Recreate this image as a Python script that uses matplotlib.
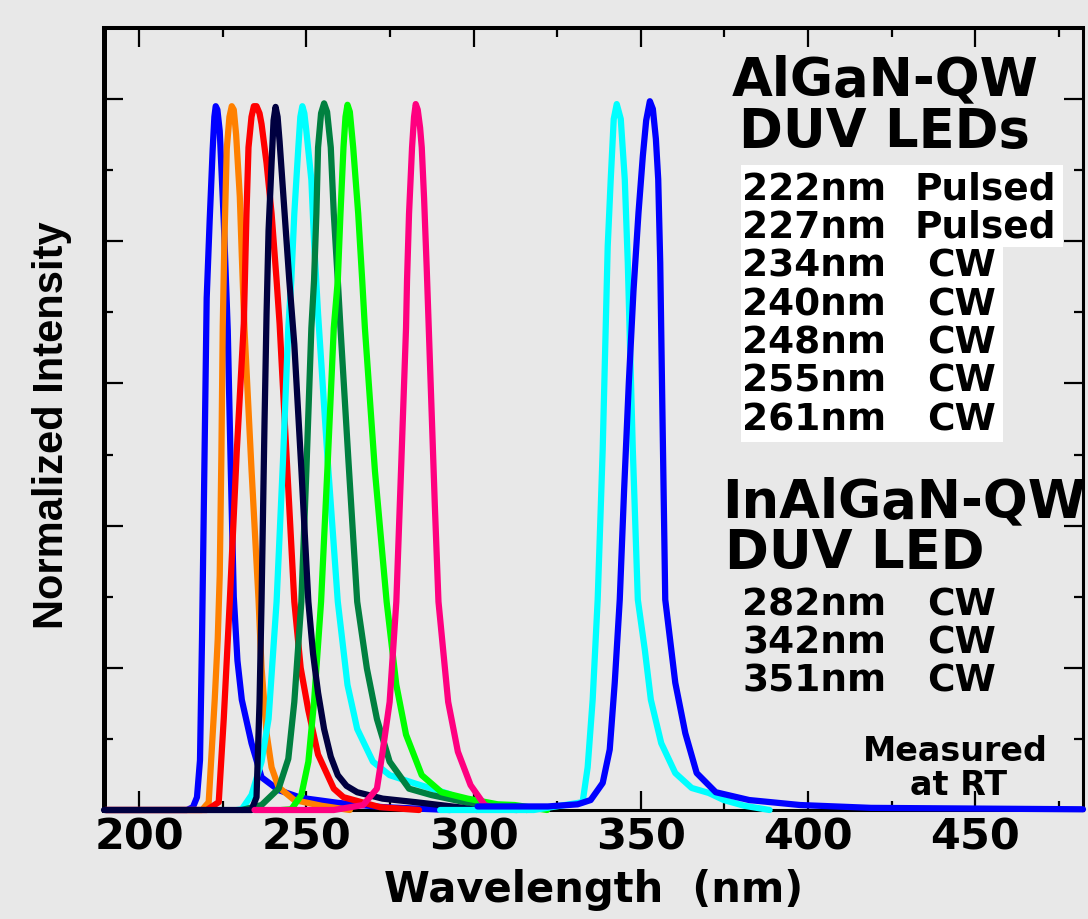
import matplotlib
matplotlib.use('Agg')
import matplotlib.pyplot as plt
import matplotlib.ticker as ticker
from matplotlib.patches import Rectangle

# spectra: wavelength (nm) and normalized intensity
wl_222 = [190.0, 214.3, 216.1, 217.3, 218.2, 218.8, 219.3, 220.2, 221.1, 222.0, 222.5, 222.9, 223.4, 224.1, 225.3, 226.5, 227.4, 228.3, 229.4, 230.7, 233.6, 236.6, 241.7, 248.5, 259.5, 273.0, 293.0]
in_222 = [0.0, 0.0, 0.004, 0.018, 0.07, 0.24, 0.41, 0.72, 0.83, 0.93, 0.975, 0.99, 0.985, 0.955, 0.83, 0.675, 0.48, 0.30, 0.21, 0.155, 0.094, 0.046, 0.028, 0.017, 0.010, 0.004, 0.0]

wl_227 = [190.0, 218.8, 220.8, 222.6, 223.5, 224.1, 224.6, 225.0, 225.5, 226.2, 227.0, 227.7, 228.3, 229.0, 230.1, 230.7, 231.5, 233.6, 235.7, 236.6, 238.1, 239.6, 241.7, 246.4, 254.5, 263.0]
in_227 = [0.0, 0.0, 0.011, 0.155, 0.24, 0.33, 0.50, 0.68, 0.80, 0.93, 0.975, 0.99, 0.985, 0.95, 0.863, 0.78, 0.676, 0.479, 0.296, 0.20, 0.108, 0.06, 0.032, 0.014, 0.006, 0.0]

wl_234 = [190.0, 220.2, 223.8, 225.3, 227.1, 229.2, 231.3, 232.1, 232.7, 233.6, 234.3, 235.1, 236.0, 236.6, 238.1, 239.6, 241.1, 242.0, 244.0, 246.4, 248.3, 250.6, 253.5, 258.2, 261.1, 272.0, 283.7]
in_234 = [0.0, 0.0, 0.011, 0.128, 0.293, 0.505, 0.684, 0.839, 0.932, 0.975, 0.99, 0.99, 0.98, 0.965, 0.91, 0.839, 0.745, 0.684, 0.505, 0.293, 0.20, 0.14, 0.078, 0.03, 0.018, 0.004, 0.0]

wl_240 = [189.5, 233.6, 235.1, 236.0, 236.6, 237.5, 238.1, 238.7, 239.6, 240.2, 240.8, 241.4, 242.0, 243.5, 244.9, 246.4, 248.5, 250.6, 252.0, 253.5, 255.3, 257.3, 259.4, 262.0, 265.2, 272.8, 282.7, 295.3, 301.0]
in_240 = [0.0, 0.0, 0.018, 0.152, 0.293, 0.547, 0.698, 0.815, 0.91, 0.97, 0.989, 0.975, 0.94, 0.839, 0.745, 0.655, 0.48, 0.293, 0.22, 0.165, 0.114, 0.075, 0.049, 0.034, 0.025, 0.016, 0.011, 0.004, 0.0]

wl_248 = [229.2, 230.7, 233.6, 236.6, 238.7, 241.1, 243.0, 244.6, 245.5, 246.4, 247.6, 248.2, 248.8, 249.4, 250.0, 251.5, 252.3, 253.5, 256.4, 259.4, 262.3, 265.2, 269.9, 274.9, 282.7, 292.4, 298.2, 304.2, 313.0]
in_248 = [0.0, 0.001, 0.021, 0.068, 0.128, 0.293, 0.49, 0.678, 0.745, 0.839, 0.932, 0.975, 0.99, 0.98, 0.955, 0.886, 0.80, 0.698, 0.49, 0.293, 0.176, 0.114, 0.068, 0.049, 0.037, 0.023, 0.011, 0.003, 0.0]

wl_255 = [230.7, 236.6, 241.7, 244.6, 246.4, 248.5, 250.0, 251.5, 252.3, 253.0, 253.5, 254.4, 255.3, 256.2, 257.3, 258.2, 259.4, 260.2, 262.6, 265.2, 268.1, 271.1, 274.9, 280.7, 287.4, 297.4, 304.2, 316.0]
in_255 = [0.0, 0.007, 0.03, 0.072, 0.152, 0.293, 0.477, 0.678, 0.745, 0.839, 0.932, 0.98, 0.994, 0.982, 0.932, 0.839, 0.745, 0.678, 0.49, 0.293, 0.199, 0.128, 0.068, 0.03, 0.021, 0.011, 0.006, 0.0]

wl_261 = [242.6, 245.5, 248.5, 250.6, 252.3, 254.4, 256.4, 258.2, 259.4, 260.2, 261.1, 261.7, 262.3, 263.0, 264.0, 265.5, 266.7, 267.5, 270.5, 274.0, 276.9, 279.8, 284.5, 290.4, 298.2, 307.2, 312.3, 322.0]
in_261 = [0.0, 0.001, 0.021, 0.068, 0.152, 0.293, 0.49, 0.678, 0.745, 0.839, 0.932, 0.975, 0.992, 0.982, 0.932, 0.839, 0.745, 0.678, 0.477, 0.293, 0.176, 0.106, 0.049, 0.025, 0.016, 0.008, 0.007, 0.0]

wl_282 = [234.5, 258.2, 267.0, 271.1, 272.8, 274.9, 276.9, 278.4, 279.8, 280.1, 280.7, 281.6, 282.2, 282.7, 283.3, 284.0, 284.5, 285.2, 286.0, 286.8, 287.6, 288.4, 289.5, 292.4, 295.3, 299.1, 303.3, 307.2, 313.0]
in_282 = [0.0, 0.0, 0.007, 0.03, 0.082, 0.152, 0.293, 0.49, 0.678, 0.745, 0.839, 0.932, 0.975, 0.993, 0.985, 0.96, 0.932, 0.86, 0.76, 0.65, 0.54, 0.43, 0.293, 0.152, 0.082, 0.035, 0.007, 0.001, 0.0]

wl_342 = [290.0, 318.0, 332.6, 334.1, 335.6, 337.1, 338.6, 340.1, 341.0, 341.9, 342.8, 344.0, 345.2, 346.1, 347.6, 349.1, 351.2, 353.0, 356.1, 360.3, 365.2, 370.3, 374.8, 380.9, 388.5]
in_342 = [0.0, 0.0, 0.011, 0.06, 0.155, 0.296, 0.507, 0.793, 0.887, 0.972, 0.993, 0.972, 0.887, 0.77, 0.507, 0.296, 0.225, 0.155, 0.094, 0.052, 0.031, 0.024, 0.014, 0.006, 0.0]

wl_351 = [301.2, 322.2, 331.1, 335.0, 338.6, 340.7, 342.2, 343.7, 345.0, 346.4, 347.8, 349.3, 350.6, 351.6, 352.7, 353.6, 354.5, 355.2, 355.8, 356.4, 357.3, 360.3, 363.3, 366.7, 372.4, 382.4, 397.6, 418.8, 482.2]
in_351 = [0.005, 0.005, 0.008, 0.014, 0.038, 0.085, 0.179, 0.296, 0.45, 0.60, 0.73, 0.84, 0.92, 0.97, 0.997, 0.986, 0.944, 0.887, 0.77, 0.577, 0.296, 0.179, 0.108, 0.052, 0.025, 0.014, 0.007, 0.003, 0.001]

algan_rows = ['222nm', '227nm', '234nm', '240nm', '248nm', '255nm', '261nm']
algan_modes = ['Pulsed', 'Pulsed', 'CW', 'CW', 'CW', 'CW', 'CW']
inalgan_rows = ['282nm', '342nm', '351nm']
inalgan_modes = ['CW', 'CW', 'CW']

W, H = 1088, 919
bg = '#e8e8e8'


def fp(x, y):
    # figure fraction from pixel position (y measured from the top)
    return x / W, 1 - y / H


fig = plt.figure(figsize=(W / 100, H / 100), dpi=100, facecolor=bg)
ax = fig.add_axes([104 / W, 1 - 810 / H, (1083 - 104) / W, (810 - 28) / H], facecolor=bg)

series = [
    (wl_222, in_222, '#0000ff'),
    (wl_227, in_227, '#ff8000'),
    (wl_234, in_234, '#ff0000'),
    (wl_248, in_248, '#00ffff'),
    (wl_255, in_255, '#008040'),
    (wl_261, in_261, '#00ff00'),
    (wl_240, in_240, '#000040'),
    (wl_282, in_282, '#ff0080'),
    (wl_342, in_342, '#00ffff'),
    (wl_351, in_351, '#0000ff'),
]
for i, (x, y, c) in enumerate(series):
    ax.plot(x, y, color=c, lw=4.5, solid_joinstyle='round', solid_capstyle='round',
            zorder=3 + i, clip_on=False)

ax.set_xlim(189.5, 482.2)
ax.set_ylim(0, 1.1)
ax.xaxis.set_major_locator(ticker.MultipleLocator(50))
ax.xaxis.set_minor_locator(ticker.MultipleLocator(25))
ax.yaxis.set_major_locator(ticker.MultipleLocator(0.2))
ax.yaxis.set_minor_locator(ticker.MultipleLocator(0.1))
ax.tick_params(which='both', direction='in', top=True, right=True, width=1.6, color='black')
ax.tick_params(which='major', length=14)
ax.tick_params(which='minor', length=6.5)
ax.tick_params(axis='y', labelleft=False)
ax.tick_params(axis='x', labelsize=31, pad=5)
for lab in ax.get_xticklabels():
    lab.set_fontweight('bold')
    lab.set_family('DejaVu Sans')

ax.spines['left'].set_linewidth(3.6)
ax.spines['top'].set_linewidth(2.9)
ax.spines['right'].set_linewidth(2.2)
ax.spines['bottom'].set_linewidth(2.2)

ax.set_xlabel('Wavelength  (nm)', fontsize=30, fontweight='bold', family='DejaVu Sans', va='baseline')
ax.xaxis.set_label_coords(0.5, -(902 - 810) / (810 - 28))
fig.text(*fp(52, 425), 'Normalized Intensity', rotation=90, ha='center', va='center',
         fontsize=30, fontweight='bold', family='Liberation Sans')

# white panel behind the AlGaN list
fig.patches.append(Rectangle(fp(741, 442), (1003 - 741) / W, (442 - 165) / H,
                             transform=fig.transFigure, facecolor='white', edgecolor='none', zorder=1))
fig.patches.append(Rectangle(fp(741, 247), (1063 - 741) / W, (247 - 165) / H,
                             transform=fig.transFigure, facecolor='white', edgecolor='none', zorder=1))

big = dict(fontsize=38, fontweight='bold', family='DejaVu Sans', va='baseline', ha='left')
row = dict(fontsize=27, fontweight='bold', family='DejaVu Sans', va='baseline', ha='left', zorder=5)

fig.text(*fp(732, 95), 'AlGaN-QW', **big)
fig.text(*fp(739, 147), 'DUV LEDs', **big)
algan_base = [200, 237.5, 277, 315, 353, 392, 430]
for name, mode, yb in zip(algan_rows, algan_modes, algan_base):
    fig.text(*fp(742, yb), name, **row)
    fig.text(*fp(915 if mode == 'Pulsed' else 927, yb), mode, **row)

# this heading runs into the right frame and is clipped there
ax.text(722, H - 517, 'InAlGaN-QW', transform=None, clip_on=True, **big)
fig.text(*fp(725, 568), 'DUV LED', **big)
inalgan_base = [615, 653, 692]
for name, mode, yb in zip(inalgan_rows, inalgan_modes, inalgan_base):
    fig.text(*fp(742, yb), name, **row)
    fig.text(*fp(927, yb), mode, **row)

small = dict(fontsize=24, fontweight='bold', family='DejaVu Sans', va='baseline', ha='center')
fig.text(*fp(955, 761), 'Measured', **small)
fig.text(*fp(958, 795), 'at RT', **small)

fig.savefig('out.png', dpi=100, facecolor=bg)
